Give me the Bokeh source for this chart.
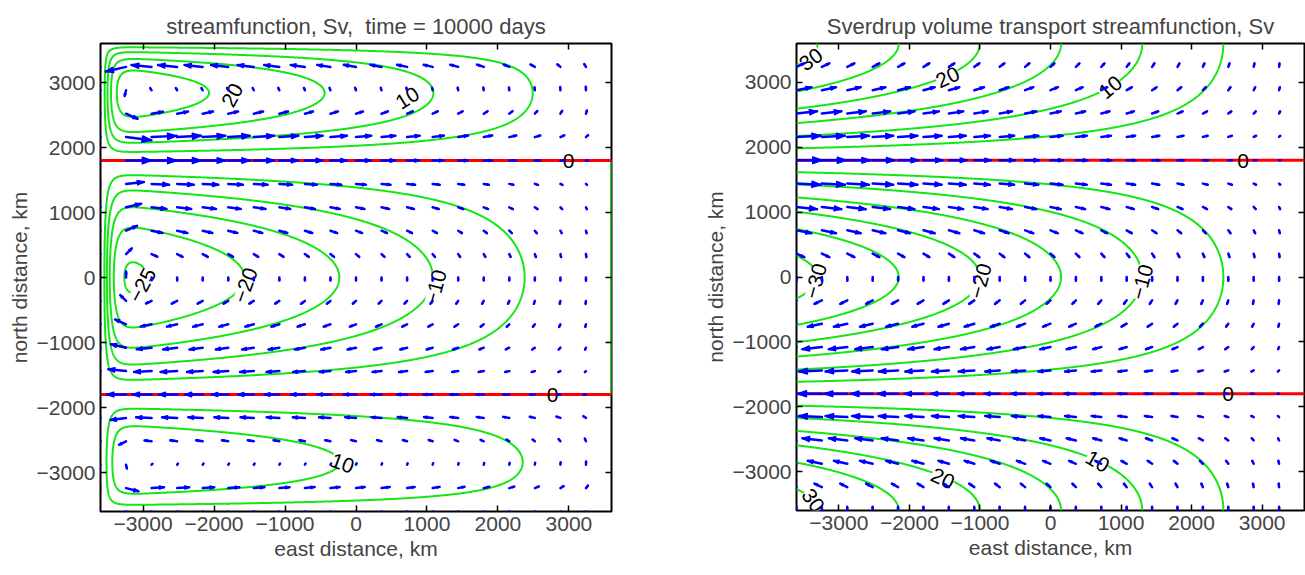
import math
import numpy as np
from bokeh.plotting import figure
from bokeh.layouts import row
from bokeh.models import FixedTicker, LinearAxis, Range1d
from bokeh.core.properties import value
from bokeh.embed import file_html
from bokeh.resources import INLINE

# ---------------- values ----------------
half_width_km = 3600          # basin spans -3600 .. 3600 km (x and y)
zero_line_lat_km = 1800       # latitudes of the zero streamlines (red lines)
arrow_spacing_km = 360        # spacing of the velocity arrows

contour_levels = [-30, -25, -20, -15, -10, -5, 5, 10, 15, 20, 25, 30]
tick_values = [-3000, -2000, -1000, 0, 1000, 2000, 3000]
tick_labels = ["\u22123000", "\u22122000", "\u22121000", "0", "1000", "2000", "3000"]

# right panel (Sverdrup): streamfunction at the western edge on y = 0, Sv
sverdrup_west_sv = -31.3

# left panel (model, 10000 days): gyre strengths (Sv) and shape parameters
north_gyre_sv = 24.5
central_gyre_sv = -27.5
south_gyre_sv = 14.8
north_zonal_power = 0.85
central_zonal_power = 0.962
south_zonal_power = 0.62
polar_rise_width = 0.42       # fraction of the polar band
polar_wall_width = 0.15
western_layer_km = 70

# contour labels (text, x km, y km, angle deg)
model_label_text = ["20", "10", "\u221225", "\u221220", "\u221210", "10", "0", "0"]
model_label_x = [-1741, 726, -3010, -1557, 1121, -190, 2996, 2770]
model_label_y = [2806, 2760, -120, -120, -150, -2860, 1795, -1803]
model_label_angle = [62, 32, 62, 70, 75, -20, 0, 0]

sverdrup_label_text = ["30", "20", "10", "0", "\u221230", "\u221220", "\u221210", "0", "20", "10", "30"]
sverdrup_label_x = [-3395, -1457, 849, 2730, -3324, -990, 1301, 2518, -1528, 665, -3366]
sverdrup_label_y = [3354, 3077, 2923, 1785, -62, -62, -77, -1800, -3108, -2846, -3446]
sverdrup_label_angle = [35, 25, 40, 0, 75, 75, 75, 0, -25, -30, -55]

# ---------------- fields ----------------
H = half_width_km
L = 2 * H
xf = np.linspace(-H, H, 721)
yf = np.linspace(-H, H, 721)
X, Y = np.meshgrid(xf, yf)


def sverdrup_psi(X, Y):
    return sverdrup_west_sv * (H - X) / L * np.cos(np.pi * Y / (2 * zero_line_lat_km))


def model_psi():
    xi = (xf + H) / western_layer_km
    wall = 1 - np.exp(-xi) * (1 + xi)
    zonal = np.clip((H - xf) / L, 0, None)
    s = np.clip((np.abs(yf) - zero_line_lat_km) / (H - zero_line_lat_km), 0, 1)
    erf = np.array([math.erf(t) for t in s / polar_rise_width])
    polar = erf * (1 - np.exp(-(1 - s) / polar_wall_width))
    polar = polar / polar.max()
    central = np.cos(np.pi * yf / (2 * zero_line_lat_km))
    psi_c = central_gyre_sv * np.outer(central, zonal ** central_zonal_power)
    psi_n = north_gyre_sv * np.outer(polar, zonal ** north_zonal_power)
    psi_s = south_gyre_sv * np.outer(polar, zonal ** south_zonal_power)
    Yg = yf[:, None] + 0 * xf[None, :]
    psi = np.where(np.abs(Yg) <= zero_line_lat_km, psi_c, np.where(Yg > 0, psi_n, psi_s))
    return psi * wall[None, :]


def velocities(psi):
    dpdy, dpdx = np.gradient(psi, yf, xf)
    return dpdy, -dpdx      # u = dpsi/dy, v = -dpsi/dx


xq = np.arange(-H, H, arrow_spacing_km)
yq = np.arange(-H, H, arrow_spacing_km)
ix = np.searchsorted(xf, xq)
iy = np.searchsorted(yf, yq)

FONT = "Liberation Sans"
GREEN = "#14e614"
BLUE = "#0000ff"
RED = "#ff0000"
FS = "21px"


def make_fig(title, b_left, b_right, b_top, b_bottom, fw, fh):
    p = figure(frame_width=fw, frame_height=fh,
               x_range=Range1d(-H, H), y_range=Range1d(-H, H),
               output_backend="svg", toolbar_location=None,
               min_border_left=b_left, min_border_right=b_right,
               min_border_top=b_top, min_border_bottom=b_bottom)
    p.title.text = title
    p.title.text_font = FONT
    p.title.text_font_size = "22px"
    p.title.text_font_style = "normal"
    p.title.align = "center"
    p.title.standoff = 9
    p.grid.visible = False
    p.outline_line_color = "black"
    p.outline_line_width = 2
    p.outline_line_alpha = 1
    p.xaxis.axis_label = "east distance, km"
    p.yaxis.axis_label = "north distance, km"
    for ax in (p.xaxis[0], p.yaxis[0]):
        ax.ticker = FixedTicker(ticks=tick_values)
        ax.major_label_overrides = dict(zip(tick_values, tick_labels))
        ax.major_label_text_font = FONT
        ax.major_label_text_font_size = FS
        ax.axis_label_text_font = FONT
        ax.axis_label_text_font_size = FS
        ax.axis_label_text_font_style = "normal"
        ax.axis_line_color = None
        ax.major_tick_in = 6
        ax.major_tick_out = 0
        ax.major_tick_line_width = 1.5
        ax.minor_tick_line_color = None
        ax.major_label_standoff = 5
        ax.axis_label_standoff = 3
    for side in ("above", "right"):
        ax = LinearAxis(ticker=FixedTicker(ticks=tick_values),
                        major_label_text_font_size="0px", major_label_text_color=None,
                        axis_line_color=None,
                        major_tick_in=6, major_tick_out=0, major_tick_line_width=1.5,
                        minor_tick_line_color=None, major_label_standoff=0)
        p.add_layout(ax, side)
    return p


def draw_panel(p, psi, labels, arrow_frac, closed_basin):
    p.contour(xf, yf, psi, levels=contour_levels, line_color=GREEN, line_width=2)
    if closed_basin:
        p.line([H, H], [-zero_line_lat_km, zero_line_lat_km], line_color=GREEN, line_width=2)
    text, lx, ly, la = labels
    nz = [i for i, t in enumerate(text) if t != "0"]
    z = [i for i, t in enumerate(text) if t == "0"]
    p.text(x=[lx[i] for i in nz], y=[ly[i] for i in nz], text=[text[i] for i in nz],
           angle=[la[i] for i in nz], angle_units="deg",
           text_font=value(FONT), text_font_size=FS, text_align="center",
           text_baseline="middle", text_color="black",
           background_fill_color="white", background_fill_alpha=1.0)
    for lat in (zero_line_lat_km, -zero_line_lat_km):
        p.line([-H, H], [lat, lat], line_color=RED, line_width=3)
    p.text(x=[lx[i] for i in z], y=[ly[i] for i in z], text=[text[i] for i in z],
           angle=[la[i] for i in z], angle_units="deg",
           text_font=value(FONT), text_font_size=FS, text_align="center",
           text_baseline="middle", text_color="black")

    u, v = velocities(psi)
    U = u[np.ix_(iy, ix)]
    V = v[np.ix_(iy, ix)]
    if closed_basin:          # no-slip western and southern walls
        U[:, 0] = 0.0
        V[:, 0] = 0.0
        U[0, :] = 0.0
        V[0, :] = 0.0
    XQ, YQ = np.meshgrid(xq, yq)
    speed = np.hypot(U, V)
    scale = arrow_frac * arrow_spacing_km / speed.max()
    U = (U * scale).ravel()
    V = (V * scale).ravel()
    x0 = XQ.ravel()
    y0 = YQ.ravel()
    x1 = x0 + U
    y1 = y0 + V
    a, b = 0.36, 0.38
    hx1 = x1 - a * (U + b * V)
    hy1 = y1 - a * (V - b * U)
    hx2 = x1 - a * (U - b * V)
    hy2 = y1 - a * (V + b * U)
    n = len(x0)
    xs = [[x0[k], x1[k]] for k in range(n)]
    ys = [[y0[k], y1[k]] for k in range(n)]
    p.multi_line(xs, ys, line_color=BLUE, line_width=2.5, line_cap="round")
    p.patches([[hx1[k], x1[k], hx2[k]] for k in range(n)],
              [[hy1[k], y1[k], hy2[k]] for k in range(n)],
              fill_color=BLUE, line_color=BLUE, line_width=1.5, line_join="round")


p1 = make_fig("streamfunction, Sv,\u00a0 time = 10000 days", 100, 39, 41, 66, 511, 468)
draw_panel(p1, model_psi(),
           (model_label_text, model_label_x, model_label_y, model_label_angle),
           1.0, True)

p2 = make_fig("Sverdrup volume transport streamfunction, Sv", 146, 1, 43, 65, 508, 467)
draw_panel(p2, sverdrup_psi(X, Y),
           (sverdrup_label_text, sverdrup_label_x, sverdrup_label_y, sverdrup_label_angle),
           1.0, False)

layout = row(p1, p2)
open("out.html", "w").write(file_html(layout, INLINE))
